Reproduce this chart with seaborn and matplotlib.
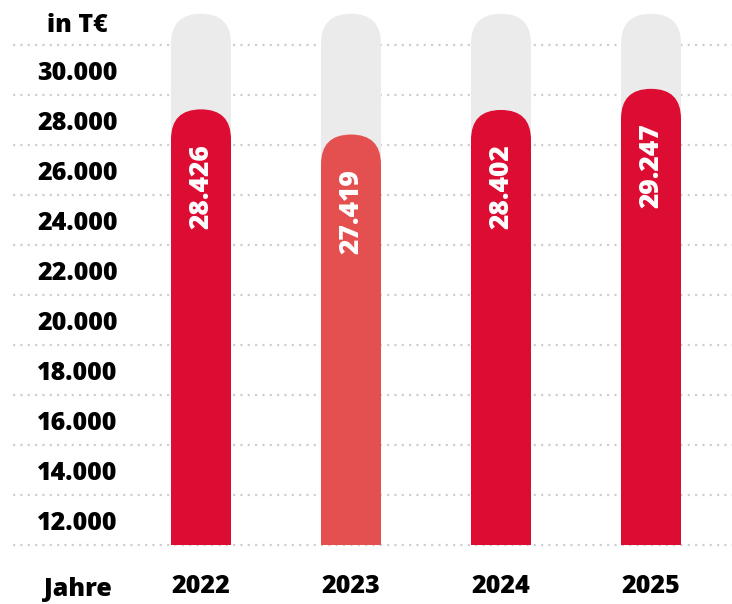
import matplotlib
matplotlib.use("Agg")
import matplotlib.pyplot as plt
import seaborn as sns
import pandas as pd
from matplotlib.patches import FancyBboxPatch

years = ["2022", "2023", "2024", "2025"]
values = [28426, 27419, 28402, 29247]
value_labels = ["28.426", "27.419", "28.402", "29.247"]
background_max = 32250
tick_values = [12000, 14000, 16000, 18000, 20000, 22000, 24000, 26000, 28000, 30000]
tick_labels = ["12.000", "14.000", "16.000", "18.000", "20.000", "22.000",
               "24.000", "26.000", "28.000", "30.000"]
grid_values = [11000, 13000, 15000, 17000, 19000, 21000, 23000, 25000, 27000, 29000, 31000]
bar_colors = ["#DC0C32", "#E3504F", "#DC0C32", "#DC0C32"]
unit_label = "in T€"
axis_label = "Jahre"

sns.set_theme(style="white")
plt.rcParams['font.family'] = ['Open Sans', 'DejaVu Sans']
WEIGHT = 800

W, H = 732, 604
fig = plt.figure(figsize=(W / 100, H / 100), dpi=100)
ax = fig.add_axes([13 / W, 59 / H, 719 / W, 545 / H])

df = pd.DataFrame({"year": years, "value": values, "bg": [background_max] * len(years)})
sns.barplot(data=df, x="year", y="bg", color="#EBEBEB", width=0.4, ax=ax,
            zorder=1, saturation=1)
sns.barplot(data=df, x="year", y="value", hue="year", palette=bar_colors,
            width=0.4, ax=ax, legend=False, zorder=2, saturation=1)

ax.set_xlim(-1.2533, 3.54)
ax.set_ylim(11000, 32800)
fig.canvas.draw()

x0, y0 = ax.transData.transform((0, 0))
x1, y1 = ax.transData.transform((1, 1000))
px_x = x1 - x0
px_y = (y1 - y0) / 1000

for p in list(ax.patches):
    x, y = p.get_x(), p.get_y()
    w, h = p.get_width(), p.get_height()
    r_px = w * px_x / 2
    rx = r_px / px_x
    ry = r_px / px_y
    fb = FancyBboxPatch((x, y), w, h,
                        boxstyle=f"round,pad=0,rounding_size={rx}",
                        mutation_aspect=ry / rx,
                        fc=p.get_facecolor(), ec='none', zorder=p.get_zorder())
    p.remove()
    ax.add_patch(fb)

for g in grid_values:
    ax.axhline(g, color="#CFCFCF", lw=1.6, ls=(0, (1, 2.3)), zorder=0, clip_on=False)

for sp in ax.spines.values():
    sp.set_visible(False)

ax.set_yticks([])
ax.set_ylabel("")
ax.set_xlabel("")
ax.set_xticks(range(len(years)))
ax.set_xticklabels(years, fontsize=18, fontweight=WEIGHT, color='black')
ax.tick_params(axis='x', length=0, pad=21)

ytr = ax.get_yaxis_transform()
lx = (77.5 - 13) / 719
for v, lbl in zip(tick_values, tick_labels):
    ax.text(lx, v, lbl, transform=ytr, ha='center', va='center_baseline',
            fontsize=18, fontweight=WEIGHT, color='black')

fig.text(77 / W, 1 - 23 / H, unit_label, ha='center', va='center_baseline',
         fontsize=18, fontweight=WEIGHT, color='black')
fig.text(78 / W, 1 - 587 / H, axis_label, ha='center', va='center_baseline',
         fontsize=18, fontweight=WEIGHT, color='black')

for i, (v, lbl) in enumerate(zip(values, value_labels)):
    ax.annotate(lbl, xy=(i, v), xytext=(0, -25), textcoords='offset points',
                rotation=90, ha='center', va='top', color='white',
                fontsize=19, fontweight=WEIGHT, zorder=5)

fig.savefig("out.png", dpi=100)
